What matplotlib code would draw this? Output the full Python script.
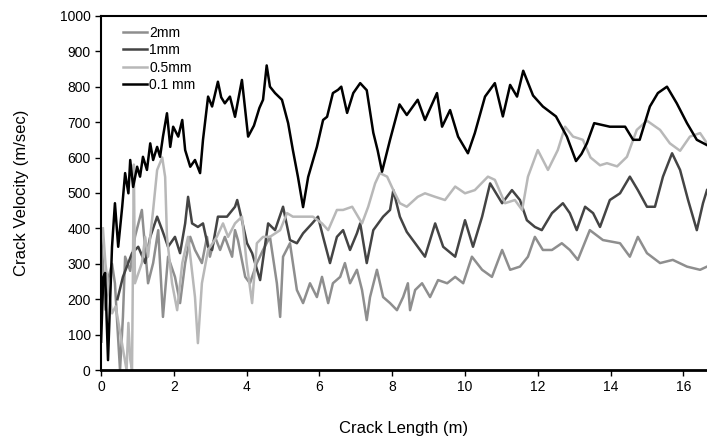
import matplotlib
matplotlib.use('Agg')
import matplotlib.pyplot as plt

plt.rcParams['font.family'] = ['Liberation Sans', 'DejaVu Sans']

# Etichette della legenda e colori delle serie
labels = ['2mm', '1mm', '0.5mm', '0.1 mm']

# Serie 2mm (grigio medio)
x_2mm = [0.0, 0.05, 0.12, 0.2, 0.3, 0.38, 0.45, 0.52, 0.6, 0.66, 0.8, 0.93, 1.12, 1.29, 1.43,
         1.57, 1.7, 1.84, 2.03, 2.17, 2.31, 2.45, 2.58, 2.77, 2.91, 2.99, 3.13, 3.27, 3.4, 3.6,
         3.68, 3.76, 3.96, 4.09, 4.28, 4.45, 4.64, 4.83, 4.92, 5.0, 5.19, 5.38, 5.55, 5.74, 5.93,
         6.07, 6.24, 6.37, 6.57, 6.7, 6.84, 7.03, 7.17, 7.3, 7.39, 7.58, 7.75, 7.94, 8.13, 8.3,
         8.43, 8.49, 8.63, 8.82, 9.04, 9.26, 9.51, 9.73, 9.95, 10.19, 10.47, 10.74, 11.02, 11.24,
         11.51, 11.73, 11.92, 12.14, 12.39, 12.66, 12.88, 13.1, 13.43, 13.79, 14.26, 14.53, 14.75,
         15.0, 15.36, 15.71, 16.1, 16.46, 16.65]
v_2mm = [380, 300, 170, 260, 300, 245, 120, 0, 150, 320, 280, 376, 452, 245, 302,
         395, 150, 320, 263, 189, 302, 376, 339, 302, 376, 320, 376, 339, 376, 320,
         395, 367, 263, 245, 302, 339, 376, 245, 150, 320, 358, 226, 189, 245, 206,
         263, 189, 245, 263, 302, 245, 283, 226, 141, 206, 283, 206, 189, 169, 206,
         245, 169, 226, 245, 206, 254, 245, 263, 245, 320, 283, 263, 339, 283,
         292, 320, 376, 339, 339, 358, 339, 311, 395, 367, 358, 320, 376,
         330, 302, 311, 292, 283, 292]

# Serie 1mm (grigio scuro)
x_1mm = [0.45, 0.6, 0.85, 1.02, 1.21, 1.35, 1.54, 1.68, 1.84, 2.03, 2.17, 2.31, 2.39, 2.5,
         2.66, 2.8, 2.94, 3.05, 3.21, 3.46, 3.68, 3.74, 3.87, 4.01, 4.15, 4.37, 4.59, 4.78, 5.0,
         5.19, 5.38, 5.55, 5.8, 5.96, 6.1, 6.29, 6.48, 6.65, 6.84, 7.03, 7.12, 7.3, 7.48, 7.75,
         7.94, 8.03, 8.21, 8.4, 8.63, 8.9, 9.18, 9.4, 9.73, 10.0, 10.22, 10.47, 10.69, 11.02,
         11.29, 11.51, 11.7, 11.92, 12.11, 12.39, 12.69, 12.88, 13.07, 13.3, 13.52, 13.71,
         13.98, 14.26, 14.53, 14.75, 15.0, 15.22, 15.44, 15.69, 15.91, 16.13, 16.37, 16.54, 16.65]
v_1mm = [200, 263, 330, 348, 302, 376, 433, 395, 348, 376, 330, 414, 489, 414,
         404, 414, 348, 339, 433, 433, 461, 480, 423, 358, 330, 254, 414, 395, 461,
         367, 358, 386, 414, 433, 376, 302, 376, 395, 339, 386, 414, 302, 395, 433,
         452, 508, 433, 390, 358, 320, 414, 348, 320, 423, 348, 433, 527, 471,
         508, 480, 423, 404, 395, 443, 471, 443, 395, 461, 443, 404,
         480, 499, 546, 508, 461, 461, 546, 612, 565, 480, 395, 471, 508]

# Serie 0.5mm (grigio chiaro)
x_05mm = [0.05, 0.12, 0.2, 0.3, 0.4, 0.5, 0.6, 0.7, 0.75, 0.8, 0.85, 0.9, 0.93, 1.12, 1.21,
          1.29, 1.43, 1.54, 1.68, 1.76, 1.81, 1.95, 2.09, 2.23, 2.39, 2.58, 2.66, 2.77, 2.94,
          3.18, 3.35, 3.49, 3.68, 3.87, 4.0, 4.15, 4.28, 4.45, 4.64, 4.92, 5.11, 5.27, 5.55,
          5.82, 6.07, 6.24, 6.48, 6.65, 6.9, 7.17, 7.34, 7.53, 7.66, 7.86, 8.03, 8.21, 8.4,
          8.7, 8.9, 9.18, 9.45, 9.73, 10.0, 10.27, 10.63, 10.82, 11.1, 11.37, 11.57, 11.73,
          12.0, 12.28, 12.55, 12.75, 12.97, 13.24, 13.45, 13.71, 13.9, 14.18, 14.45, 14.72,
          15.0, 15.36, 15.63, 15.91, 16.18, 16.46, 16.65]
v_05mm = [400, 300, 230, 160, 180, 120, 60, 0, 133, 30, 0, 580, 245, 302, 376,
          320, 452, 565, 600, 545, 376, 245, 169, 302, 376, 206, 76, 245, 339,
          376, 414, 376, 414, 433, 302, 189, 358, 376, 376, 395, 443, 433, 433,
          433, 414, 395, 452, 452, 461, 414, 461, 527, 556, 546, 508, 471, 461,
          489, 499, 489, 480, 518, 499, 508, 546, 537, 471, 480, 452, 546,
          621, 565, 621, 687, 659, 650, 600, 578, 584, 575, 602, 678,
          704, 678, 640, 619, 659, 669, 640]

# Serie 0.1mm (nero)
x_01mm = [0.0, 0.06, 0.11, 0.19, 0.3, 0.38, 0.47, 0.58, 0.66, 0.75, 0.8, 0.88, 0.99, 1.07,
          1.15, 1.26, 1.35, 1.43, 1.54, 1.62, 1.7, 1.81, 1.9, 1.98, 2.12, 2.23, 2.31, 2.45,
          2.58, 2.72, 2.8, 2.94, 3.05, 3.21, 3.3, 3.4, 3.54, 3.68, 3.87, 4.04, 4.2, 4.35, 4.45,
          4.55, 4.64, 4.78, 4.97, 5.14, 5.27, 5.41, 5.55, 5.69, 5.93, 6.1, 6.21, 6.37, 6.51,
          6.6, 6.76, 6.93, 7.12, 7.3, 7.48, 7.6, 7.72, 7.94, 8.2, 8.4, 8.7, 8.9, 9.23, 9.37,
          9.59, 9.81, 10.08, 10.27, 10.55, 10.82, 11.04, 11.24, 11.43, 11.6, 11.87, 12.14,
          12.5, 12.8, 13.05, 13.2, 13.35, 13.55, 13.98, 14.4, 14.62, 14.8, 15.08, 15.3, 15.55,
          15.82, 16.1, 16.37, 16.65]
v_01mm = [80, 263, 274, 28, 348, 471, 348, 461, 556, 499, 593, 517, 574, 546,
          602, 565, 640, 593, 630, 602, 659, 725, 630, 687, 659, 706, 621, 574,
          593, 556, 650, 772, 744, 814, 770, 753, 772, 715, 819, 659, 690, 740, 763,
          860, 800, 782, 763, 697, 621, 545, 460, 545, 630, 706, 715, 782, 791,
          800, 726, 782, 810, 790, 670, 620, 560, 650, 750, 720, 763, 706, 782, 687,
          734, 659, 612, 669, 772, 810, 716, 805, 772, 845, 775, 744,
          716, 659, 590, 610, 640, 697, 687, 687, 650, 650, 744, 782, 800,
          753, 697, 650, 635]

xs = [x_2mm, x_1mm, x_05mm, x_01mm]
vs = [v_2mm, v_1mm, v_05mm, v_01mm]
colors = ['#8e8e8e', '#444444', '#b8b8b8', '#000000']

# Creazione della figura con le stesse proporzioni del riferimento
fig = plt.figure(figsize=(7.07, 4.40), dpi=100)
ax = fig.add_axes([0.143, 0.159, 0.857, 0.805])

for x, v, c, lab in zip(xs, vs, colors, labels):
    ax.plot(x, v, color=c, lw=1.8, label=lab)

ax.set_xlim(0, 16.65)
ax.set_ylim(0, 1000)
ax.set_xticks(range(0, 17, 2))
ax.set_yticks(range(0, 1001, 100))
ax.tick_params(labelsize=10, length=4, width=1)

ax.spines['right'].set_visible(False)
ax.spines['bottom'].set_linewidth(2)
ax.spines['left'].set_linewidth(1.5)
ax.spines['top'].set_linewidth(1.5)

ax.set_xlabel('Crack Length (m)', fontsize=12, labelpad=19)
ax.set_ylabel('Crack Velocity (m/sec)', fontsize=12, labelpad=22)

ax.legend(loc='upper left', frameon=False, fontsize=10, handlelength=1.7,
          handletextpad=0.2, labelspacing=0.25, borderaxespad=0.3, bbox_to_anchor=(0.02, 1.0))

fig.savefig('out.png', dpi=100)
